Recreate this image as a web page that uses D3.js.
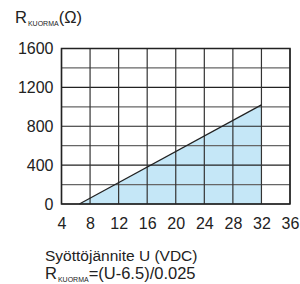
<html>
<head>
<meta charset="utf-8">
<script src="https://d3js.org/d3.v7.min.js"></script>
<style>
body { margin: 0; background: #fff; }
text { font-family: "Liberation Sans", Arial, sans-serif; fill: #222; }
</style>
</head>
<body>
<script>
// values
var xTicks = [4, 8, 12, 16, 20, 24, 28, 32, 36];
var yTicks = [0, 400, 800, 1200, 1600];
var yGrid = [0, 200, 400, 600, 800, 1000, 1200, 1400, 1600];
var loadU = [6.5, 32];        // supply voltage (VDC)
var loadR = [0, 1020];        // R = (U-6.5)/0.025

var w = 300, h = 284;
var L = 61.5, R = 290, T = 48.5, B = 204;

var x = d3.scaleLinear().domain([4, 36]).range([L, R]);
var y = d3.scaleLinear().domain([0, 1600]).range([B, T]);

var svg = d3.select("body").append("svg").attr("width", w).attr("height", h);

var pts = loadU.map(function(u, i){ return {u: u, r: loadR[i]}; });

// shaded area under the line
var area = d3.area().x(function(d){ return x(d.u); }).y0(y(0)).y1(function(d){ return y(d.r); });
svg.append("path").attr("d", area(pts)).attr("fill", "#c5e7f7");

// grid
svg.append("g").selectAll("line").data(yGrid).enter().append("line")
  .attr("x1", L).attr("x2", R)
  .attr("y1", function(d){ return y(d); }).attr("y2", function(d){ return y(d); })
  .attr("stroke", function(d){ return d % 400 == 0 ? "#222" : "#666"; })
  .attr("stroke-width", 1.2);
svg.append("g").selectAll("line").data(xTicks).enter().append("line")
  .attr("y1", T).attr("y2", B)
  .attr("x1", function(d){ return x(d); }).attr("x2", function(d){ return x(d); })
  .attr("stroke", "#333").attr("stroke-width", 1.2);

// frame
svg.append("rect").attr("x", L).attr("y", T).attr("width", R - L).attr("height", B - T)
  .attr("fill", "none").attr("stroke", "#222").attr("stroke-width", 1.5);

// load line
var line = d3.line().x(function(d){ return x(d.u); }).y(function(d){ return y(d.r); });
svg.append("path").attr("d", line(pts)).attr("fill", "none").attr("stroke", "#222").attr("stroke-width", 1.2);

// axes (labels only)
var yAxis = d3.axisLeft(y).tickValues(yTicks).tickFormat(d3.format("d")).tickSize(0).tickPadding(8);
var xAxis = d3.axisBottom(x).tickValues(xTicks).tickFormat(d3.format("d")).tickSize(0).tickPadding(14);
var gy = svg.append("g").attr("transform", "translate(" + L + ",0)").call(yAxis);
var gx = svg.append("g").attr("transform", "translate(0," + B + ")").call(xAxis);
[gy, gx].forEach(function(g){
  g.select(".domain").remove();
  g.selectAll("text").style("font-size", "16px").attr("fill", "#222");
});

// titles
var t = svg.append("text").attr("x", 15).attr("y", 23).style("font-size", "16.5px");
t.append("tspan").text("R");
t.append("tspan").attr("dx", 1).attr("dy", 3).style("font-size", "7px").text("KUORMA");
t.append("tspan").attr("dy", -3).text("(\u03a9)");

svg.append("text").attr("x", 45).attr("y", 261).style("font-size", "15.5px").text("Syöttöjännite U (VDC)");
var f = svg.append("text").attr("x", 45).attr("y", 279).style("font-size", "16.5px");
f.append("tspan").text("R");
f.append("tspan").attr("dx", 1).attr("dy", 3).style("font-size", "7px").text("KUORMA");
f.append("tspan").attr("dy", -3).text("=(U-6.5)/0.025");
</script>
</body>
</html>
